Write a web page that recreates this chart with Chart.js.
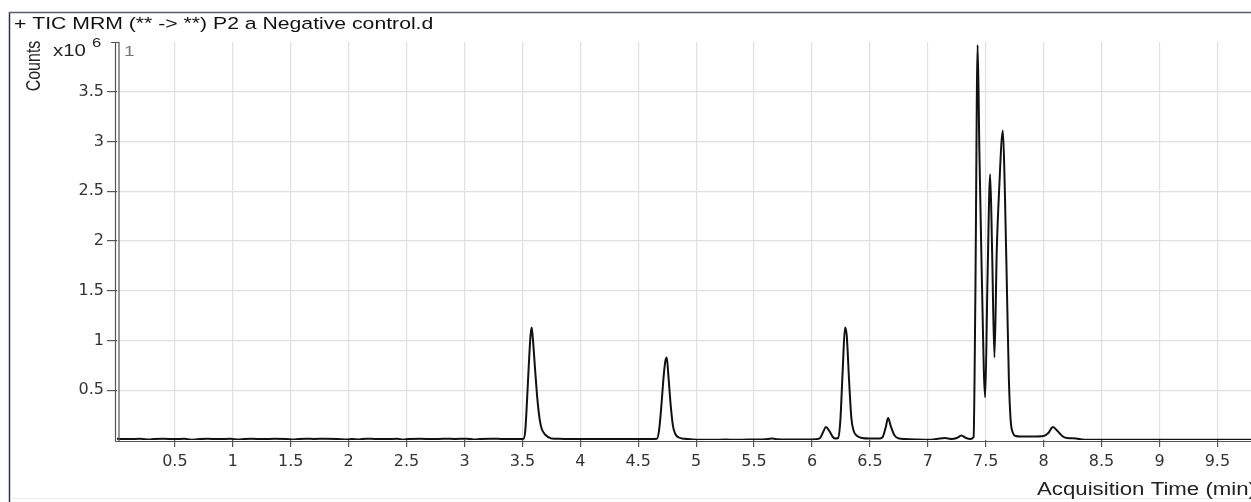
<!DOCTYPE html>
<html><head><meta charset="utf-8">
<script src="https://cdn.jsdelivr.net/npm/chart.js@4.4.0/dist/chart.umd.min.js"></script>
<style>html,body{margin:0;padding:0;background:#fff;overflow:hidden}#wrap{position:relative;width:1251px;height:502px}</style>
</head><body><div id="wrap"><canvas id="c" width="1251" height="502"></canvas></div>
<script>
// ---- data (retention time in min, counts in units of 10^6) ----
const times = [
  0.00,0.10,0.20,0.28,0.32,0.40,0.50,0.58,0.64,0.70,0.78,0.88,0.98,1.05,1.10,
  1.16,1.26,1.36,1.46,1.52,1.57,1.63,1.70,1.80,1.90,1.98,2.03,2.09,2.15,2.22,
  2.32,2.42,2.47,2.52,2.62,2.72,2.82,2.92,3.02,3.08,3.14,3.22,3.32,3.42,3.48,
  3.51,3.525,3.54,3.555,3.57,3.58,3.59,3.61,3.63,3.65,3.667,
  3.70,3.75,3.82,3.92,4.02,4.12,4.22,4.32,4.42,4.52,4.60,
  4.66,4.68,4.70,4.72,4.735,4.746,4.76,4.78,4.80,4.82,4.85,4.90,4.97,
  5.05,5.15,5.25,5.35,5.45,5.55,5.62,5.66,5.70,5.76,5.85,5.95,6.03,
  6.07,6.10,6.12,6.15,6.18,6.20,6.225,6.245,6.265,6.285,6.30,6.32,6.34,6.36,6.39,6.43,6.50,6.58,
  6.61,6.635,6.657,6.68,6.71,6.75,6.80,6.90,7.00,7.05,7.10,7.15,7.20,7.25,7.29,7.33,7.37,
  7.395,7.41,7.43,7.445,7.465,7.495,7.515,7.538,7.555,7.575,7.595,7.615,7.648,7.665,7.685,7.70,7.715,7.735,7.76,
  7.80,7.90,8.00,8.04,8.08,8.12,8.16,8.20,8.28,8.33,
  8.40,8.60,8.80,9.00,9.20,9.40,9.60,9.80
];
const counts = [
  0.012,0.010,0.012,0.004,0.011,0.012,0.010,0.012,0.003,0.008,0.012,0.010,0.012,0.005,0.011,
  0.012,0.010,0.012,0.011,0.004,0.010,0.012,0.011,0.012,0.010,0.004,0.011,0.006,0.012,0.011,
  0.010,0.012,0.003,0.011,0.012,0.010,0.012,0.011,0.012,0.006,0.010,0.012,0.011,0.010,0.010,
  0.012,0.10,0.40,0.75,1.05,1.13,1.02,0.70,0.40,0.20,0.11,
  0.05,0.015,0.012,0.010,0.011,0.010,0.011,0.010,0.011,0.010,0.010,
  0.012,0.10,0.35,0.65,0.80,0.83,0.65,0.35,0.14,0.06,0.025,0.012,0.005,
  0.003,0.003,0.004,0.003,0.004,0.004,0.010,0.014,0.008,0.004,0.005,0.006,0.008,
  0.02,0.09,0.13,0.09,0.03,0.015,0.02,0.20,0.70,1.13,1.05,0.60,0.22,0.09,0.04,0.02,0.015,0.015,
  0.03,0.12,0.22,0.14,0.05,0.015,0.010,0.005,0.002,0.006,0.015,0.02,0.01,0.02,0.045,0.02,0.01,
  0.03,1.40,3.97,2.90,1.70,0.43,1.60,2.67,1.90,0.83,1.90,2.50,3.11,2.50,1.40,0.60,0.20,0.07,0.04,
  0.035,0.035,0.04,0.07,0.13,0.09,0.04,0.02,0.015,0.004,
  0.002,0.002,0.002,0.002,0.002,0.002,0.002,0.002
];
const xTickValues = [0.5,1,1.5,2,2.5,3,3.5,4,4.5,5,5.5,6,6.5,7,7.5,8,8.5,9,9.5];
const yTickValues = [0.5,1,1.5,2,2.5,3,3.5];
const xTickLabels = ['0.5','1','1.5','2','2.5','3','3.5','4','4.5','5','5.5','6','6.5','7','7.5','8','8.5','9','9.5'];
const yTickLabels = ['0.5','1','1.5','2','2.5','3','3.5'];
const xRange = [0, 9.79];
const yRange = [0, 4.0];
const chartTitle = '+ TIC MRM (** -> **) P2 a Negative control.d';
const xAxisTitle = 'Acquisition Time (min)';
const yAxisTitle = 'Counts';
const yUnitBase = 'x10';
const yUnitExp = '6';
const panelNumber = '1';

if (times.length !== counts.length) console.error('length mismatch', times.length, counts.length);

const SX = 1.27; // horizontal stretch of the reference image text
const FONT = '"Liberation Sans", Arial, sans-serif';
function sText(ctx, str, x, y, size, color, align) {
  ctx.save();
  ctx.translate(x, y); ctx.scale(SX, 1);
  ctx.font = size + 'px ' + FONT;
  ctx.fillStyle = color; ctx.textAlign = align || 'left'; ctx.textBaseline = 'alphabetic';
  ctx.fillText(str, 0, 0);
  ctx.restore();
}

const decor = {
  id: 'decor',
  afterDraw(chart) {
    const ctx = chart.ctx, a = chart.chartArea;
    ctx.save();
    // outer frame
    ctx.strokeStyle = '#2b3150'; ctx.lineWidth = 1.5;
    ctx.beginPath(); ctx.moveTo(9.5, 12); ctx.lineTo(9.5, 502); ctx.stroke();
    ctx.strokeStyle = '#5a5f70'; ctx.lineWidth = 1.5;
    ctx.beginPath(); ctx.moveTo(9, 12.5); ctx.lineTo(1251, 12.5); ctx.stroke();
    ctx.strokeStyle = '#ececec'; ctx.lineWidth = 1;
    ctx.beginPath(); ctx.moveTo(10, 498.5); ctx.lineTo(1251, 498.5); ctx.stroke();
    // double axis lines
    ctx.strokeStyle = '#555'; ctx.lineWidth = 1.2;
    ctx.beginPath();
    ctx.moveTo(a.left - 1.5, a.top); ctx.lineTo(a.left - 1.5, a.bottom + 1.5);
    ctx.moveTo(a.left + 2, a.top); ctx.lineTo(a.left + 2, a.bottom + 1.5);
    ctx.moveTo(a.left - 1.5, a.bottom + 1.5); ctx.lineTo(a.right, a.bottom + 1.5);
    ctx.moveTo(a.left - 6, a.top + 0.5); ctx.lineTo(a.left + 2, a.top + 0.5);
    ctx.stroke();
    ctx.restore();
    // texts
    sText(ctx, chartTitle, 14, 29, 16.7, '#111');
    sText(ctx, yUnitBase, 53, 56, 16, '#222');
    sText(ctx, yUnitExp, 92, 47, 13, '#222');
    sText(ctx, panelNumber, 124, 56, 15, '#777');
    sText(ctx, xAxisTitle, 1037, 495, 17.5, '#222');
    ctx.save();
    ctx.translate(40, 66); ctx.scale(SX, 1); ctx.rotate(-Math.PI / 2);
    ctx.font = '16px ' + FONT; ctx.fillStyle = '#222';
    ctx.textAlign = 'center'; ctx.textBaseline = 'alphabetic';
    ctx.fillText(yAxisTitle, 0, 0);
    ctx.restore();
  }
};

new Chart(document.getElementById('c'), {
  type: 'line',
  data: {
    datasets: [{
      data: times.map((t, i) => ({ x: t, y: counts[i] })),
      borderColor: '#111',
      borderWidth: 2,
      pointRadius: 0,
      fill: false,
      cubicInterpolationMode: 'monotone'
    }]
  },
  options: {
    responsive: false,
    animation: false,
    devicePixelRatio: 1,
    parsing: false,
    layout: { padding: { top: 42, left: 0, right: 0, bottom: 0 } },
    plugins: { legend: { display: false }, tooltip: { enabled: false } },
    scales: {
      x: {
        type: 'linear', min: xRange[0], max: xRange[1],
        afterBuildTicks: s => { s.ticks = xTickValues.map(v => ({ value: v })); },
        afterFit: s => { s.height = 62; },
        ticks: {
          autoSkip: false, maxRotation: 0, padding: 5,
          callback: (v, i) => xTickLabels[i],
          font: { family: '"DejaVu Sans"', size: 16 }, color: '#333'
        },
        grid: { color: '#e0e0e0', lineWidth: 1.2, tickLength: 7, tickColor: '#555', tickWidth: 1.2, tickBorderDash: [] },
        border: { display: false, dash: [] }
      },
      y: {
        type: 'linear', min: yRange[0], max: yRange[1],
        afterBuildTicks: s => { s.ticks = yTickValues.map(v => ({ value: v })); },
        afterFit: s => { s.width = 117; },
        ticks: {
          padding: 3,
          callback: (v, i) => yTickLabels[i],
          font: { family: '"DejaVu Sans"', size: 16 }, color: '#333'
        },
        grid: { color: '#e0e0e0', lineWidth: 1.2, tickLength: 10, tickColor: '#555', tickWidth: 1.2, tickBorderDash: [] },
        border: { display: false, dash: [] }
      }
    }
  },
  plugins: [decor]
});
</script>
</body></html>
